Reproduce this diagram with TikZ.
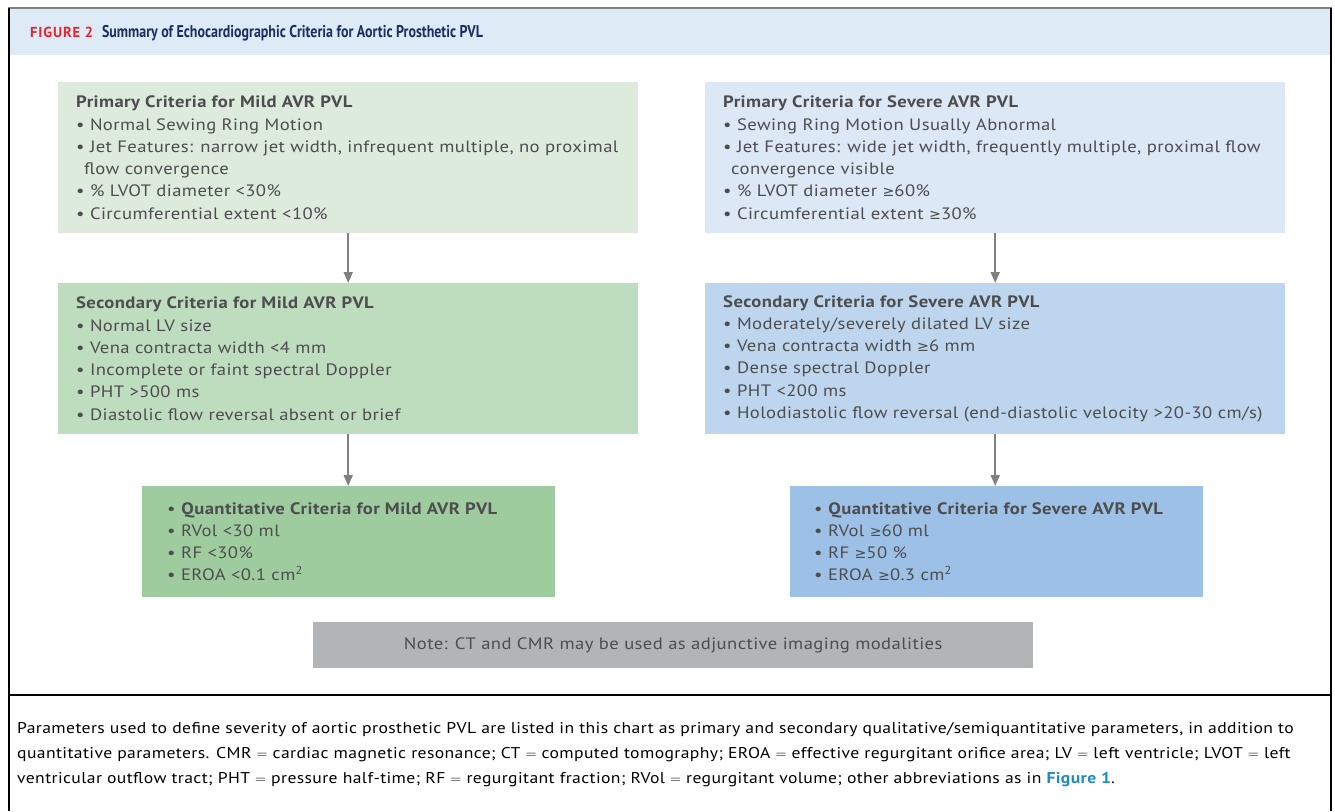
\documentclass[tikz,border=0pt]{standalone}
\usepackage{fontspec}
\setmainfont{PT Sans}[FakeStretch=1.13, LetterSpace=2.5]
\newfontfamily\plainfont{PT Sans}
\newfontfamily\headfont{PT Sans}[FakeStretch=0.82]
\newfontfamily\symfont[Scale=0.86]{DejaVu Sans}
\usetikzlibrary{arrows.meta}

% palette
\definecolor{txt}{HTML}{4D4D4F}
\definecolor{gA}{HTML}{DDEBDC}
\definecolor{gB}{HTML}{BEDCBE}
\definecolor{gC}{HTML}{9FCC9F}
\definecolor{bA}{HTML}{DCE8F5}
\definecolor{bB}{HTML}{BDD6EE}
\definecolor{bC}{HTML}{9DC1E6}
\definecolor{noteg}{HTML}{B3B4B6}
\definecolor{hdr}{HTML}{DEEAF6}
\definecolor{figred}{HTML}{E4252C}
\definecolor{navy}{HTML}{1A2F5F}
\definecolor{linkblue}{HTML}{1C8AC9}
\definecolor{arrgray}{HTML}{808080}

\newcommand\gesign{{\symfont ≥}}
\newcommand\contindent{\hspace*{8pt}}

\tikzset{
  critbox/.style={anchor=north west, inner sep=0pt, draw=none,
    minimum width=580pt, minimum height=151pt},
  quantbox/.style={critbox, minimum width=413pt, minimum height=111pt},
  crittext/.style={anchor=west, inner sep=0pt, text=txt,
    font=\fontsize{16.5}{22.3}\selectfont, align=left},
  flowarrow/.style={draw=arrgray, line width=1.8pt,
    -{Triangle[length=11pt,width=9pt]}},
}

\begin{document}
\begin{tikzpicture}[x=1pt,y=-1pt]
\useasboundingbox (0,0) rectangle (1335,811);
\fill[white] (0,0) rectangle (1335,811);

% header band and frame
\fill[hdr] (9,9) rectangle (1331,55);
\draw[arrgray, line width=2pt] (8,8) -- (1332,8);
\draw[black, line width=2pt] (9,8) -- (9,811);
\draw[black, line width=2pt] (1331,8) -- (1331,811);
\draw[black, line width=2.5pt] (9,695) -- (1331,695);

\node[anchor=west, inner sep=0pt] (title) at (30,33)
  {{\color{figred}\plainfont\fontsize{14.5}{16}\selectfont\bfseries\addfontfeatures{LetterSpace=6}FIGURE 2}\hspace{9pt}{\color{navy}\headfont\fontsize{17}{18}\selectfont\bfseries Summary of Echocardiographic Criteria for Aortic Prosthetic PVL}};

% mild column
\node[critbox, fill=gA] (pmild) at (58,82) {};
\node[crittext] (pmildtxt) at ([xshift=18pt]pmild.west) {%
\textbf{Primary Criteria for Mild AVR PVL}\\
• Normal Sewing Ring Motion\\
• Jet Features: narrow jet width, infrequent multiple, no proximal\\
\contindent flow convergence\\
• \% LVOT diameter <30\%\\
• Circumferential extent <10\%};

\node[critbox, fill=gB] (smild) at (58,283) {};
\node[crittext] (smildtxt) at ([xshift=18pt]smild.west) {%
\textbf{Secondary Criteria for Mild AVR PVL}\\
• Normal LV size\\
• Vena contracta width <4 mm\\
• Incomplete or faint spectral Doppler\\
• PHT >500 ms\\
• Diastolic flow reversal absent or brief};

\node[quantbox, fill=gC] (qmild) at (142,486) {};
\node[crittext] (qmildtxt) at ([xshift=25pt]qmild.west) {%
• \textbf{Quantitative Criteria for Mild AVR PVL}\\
• RVol <30 ml\\
• RF <30\%\\
• EROA <0.1 cm\textsuperscript{2}};

% severe column
\node[critbox, fill=bA] (psev) at (705,82) {};
\node[crittext] (psevtxt) at ([xshift=18pt]psev.west) {%
\textbf{Primary Criteria for Severe AVR PVL}\\
• Sewing Ring Motion Usually Abnormal\\
• Jet Features: wide jet width, frequently multiple, proximal flow\\
\contindent convergence visible\\
• \% LVOT diameter \gesign60\%\\
• Circumferential extent \gesign30\%};

\node[critbox, fill=bB] (ssev) at (705,283) {};
\node[crittext] (ssevtxt) at ([xshift=18pt]ssev.west) {%
\textbf{Secondary Criteria for Severe AVR PVL}\\
• Moderately/severely dilated LV size\\
• Vena contracta width \gesign6 mm\\
• Dense spectral Doppler\\
• PHT <200 ms\\
• Holodiastolic flow reversal (end-diastolic velocity >20-30 cm/s)};

\node[quantbox, fill=bC] (qsev) at (790,486) {};
\node[crittext] (qsevtxt) at ([xshift=24pt]qsev.west) {%
• \textbf{Quantitative Criteria for Severe AVR PVL}\\
• RVol \gesign60 ml\\
• RF \gesign50 \%\\
• EROA \gesign0.3 cm\textsuperscript{2}};

% connectors
\draw[flowarrow] (pmild.south) -- (smild.north);
\draw[flowarrow] (smild.south) -- (smild.south |- qmild.north);
\draw[flowarrow] (psev.south) -- (ssev.north);
\draw[flowarrow] (ssev.south) -- (ssev.south |- qsev.north);

% note
\node[anchor=north west, fill=noteg, minimum width=720pt, minimum height=46pt,
  inner sep=0pt, text=txt, font=\fontsize{16.5}{20}\selectfont] (note) at (313,622)
  {Note: CT and CMR may be used as adjunctive imaging modalities};

% caption
\node[anchor=north west, inner sep=0pt, align=left,
  font=\fontsize{15.6}{25}\selectfont, text=black] (caption) at (17,722) {%
Parameters used to define severity of aortic prosthetic PVL are listed in this chart as primary and secondary qualitative/semiquantitative parameters, in addition to\\
quantitative parameters. CMR $=$ cardiac magnetic resonance; CT $=$ computed tomography; EROA $=$ effective regurgitant orifice area; LV $=$ left ventricle; LVOT $=$ left\\
ventricular outflow tract; PHT $=$ pressure half-time; RF $=$ regurgitant fraction; RVol $=$ regurgitant volume; other abbreviations as in {\color{linkblue}\bfseries Figure 1}.};
\end{tikzpicture}
\end{document}
